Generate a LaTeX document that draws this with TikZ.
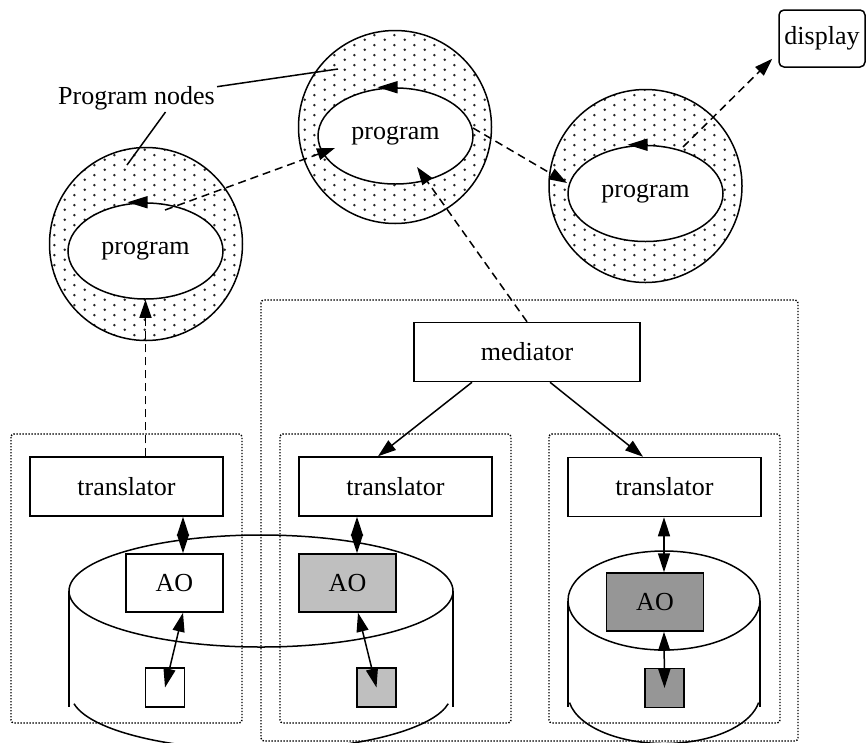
\documentclass[tikz,border=0pt]{standalone}
\usepackage{fontspec}
\setmainfont{Liberation Serif}
\usetikzlibrary{arrows.meta,shapes.geometric,patterns,calc}

\pgfdeclarepatternformonly{ringdots}{\pgfpointorigin}{\pgfpoint{20pt}{10pt}}{\pgfpoint{20pt}{10pt}}{%
  \pgfpathcircle{\pgfpoint{5pt}{2.5pt}}{1.5pt}%
  \pgfpathcircle{\pgfpoint{15pt}{7.5pt}}{1.5pt}%
  \pgfusepath{fill}}

\definecolor{aolight}{gray}{0.75}
\definecolor{aodark}{gray}{0.59}

\begin{document}
\begin{tikzpicture}[x=1pt,y=1pt,
  every node/.style={font=\fontsize{26}{31}\selectfont},
  ring/.style={draw,circle,line width=1.5pt,minimum size=193pt,pattern=ringdots,pattern color=black!85},
  core/.style={draw,ellipse,line width=1.5pt,fill=white,minimum width=155pt,minimum height=96pt,inner sep=0pt},
  unit/.style={draw,rectangle,line width=1.5pt,minimum width=193pt,minimum height=59pt},
  ao/.style={draw,rectangle,line width=1.5pt,minimum width=97pt,minimum height=58pt},
  cell/.style={draw,rectangle,line width=1.5pt,minimum size=39pt,inner sep=0pt},
  group/.style={line width=1.4pt,dash pattern=on 1.4pt off 1.6pt,rounded corners=3pt},
  flow/.style={line width=1.5pt,dash pattern=on 8pt off 5pt,-{Triangle[length=18pt,width=12pt]}},
  link/.style={line width=1.5pt,-{Triangle[length=18pt,width=12pt]}},
  both/.style={line width=1.5pt,{Triangle[length=19pt,width=12pt]}-{Triangle[length=19pt,width=12pt]}},
  tick/.style={line width=1.5pt,-{Triangle[length=20pt,width=12pt]}}]

\useasboundingbox (0,0) rectangle (866,-742);

\draw[group] (261,-300) rectangle (798,-741);
\draw[group] (11,-434) rectangle (242,-723);
\draw[group] (280,-434) rectangle (511,-723);
\draw[group] (549,-434) rectangle (780,-723);

\draw[line width=1.5pt] (261,-591) ellipse [x radius=192, y radius=56];
\draw[line width=1.5pt] (69,-591) -- (69,-707);
\draw[line width=1.5pt] (453,-591) -- (453,-707);
\draw[line width=1.5pt] (74,-703.7) arc [start angle=190, end angle=350, x radius=190, y radius=56];

\draw[line width=1.5pt] (664,-600.5) ellipse [x radius=96, y radius=49.5];
\draw[line width=1.5pt] (568,-600.5) -- (568,-707);
\draw[line width=1.5pt] (760,-600.5) -- (760,-707);
\draw[line width=1.5pt] (569.5,-702.6) arc [start angle=190, end angle=350, x radius=96, y radius=49.5];

\node[ring] (p1) at (146,-244) {};

\node[core] (p1in) at (145.5,-251) {program};

\node[ring] (p2) at (395,-127) {};

\node[core] (p2in) at (395.5,-136) {program};

\node[ring] (p3) at (645.5,-186) {};

\node[core] (p3in) at (645.5,-193.5) {program};

\node[draw,rounded corners=5pt,line width=1.5pt,minimum width=86pt,minimum height=57pt,inner sep=0pt] (disp) at (822,-38.5) {display};

\node[inner sep=2pt] (lbl) at (136.5,-98) {Program nodes};

\node[unit,minimum width=226pt] (med) at (527,-352) {mediator};

\node[unit] (t1) at (126.5,-486.5) {translator};

\node[unit] (t2) at (395.5,-486.5) {translator};

\node[unit] (t3) at (664.5,-487) {translator};

\node[ao,fill=white] (ao1) at (174.5,-583) {AO};

\node[ao,fill=aolight] (ao2) at (347.5,-583) {AO};

\node[ao,fill=aodark] (ao3) at (655,-602) {AO};

\node[cell,fill=white] (s1) at (165,-687.5) {};

\node[cell,fill=aolight] (s2) at (376.5,-687.5) {};

\node[cell,fill=aodark] (s3) at (664.5,-688) {};

\draw[tick] ([xshift=2pt]p1in.north) -- ([xshift=-18pt]p1in.north);
\draw[tick] ([xshift=2pt]p2in.north) -- ([xshift=-18pt]p2in.north);
\draw[tick] ([xshift=2pt]p3in.north) -- ([xshift=-18pt]p3in.north);

\draw[line width=1.5pt] (lbl.8) -- ($(p2)+(-57,58)$);
\draw[line width=1.5pt] ([xshift=29pt]lbl.south) -- ($(p1)+(-19,79)$);

\draw[flow] (p1in.south |- t1.north) -- (p1in.south);
\draw[flow] ($(p1in)+(19.5,41)$) -- ($(p2in)+(-60.5,-12)$);
\draw[flow] ($(p2in)+(77.5,8)$) -- ($(p3in)+(-78.5,10.5)$);
\draw[flow] ($(p3in)+(37.5,46.5)$) -- ($(disp.south west)+(-6,9)$);
\draw[flow] (med.north) -- ($(p2in)+(21.5,-31)$);

\draw[link] ([xshift=-55pt]med.south) -- ([xshift=-17.5pt]t2.north);
\draw[link] ([xshift=23pt]med.south) -- ([xshift=-21.5pt]t3.north);

\draw[both] ([xshift=8.5pt]ao1.north) -- ([xshift=8.5pt]ao1.north |- t1.south);
\draw[both] ([xshift=9.5pt]ao2.north) -- ([xshift=9.5pt]ao2.north |- t2.south);
\draw[both] ([xshift=9pt]ao3.north) -- ([xshift=9pt]ao3.north |- t3.south);

\draw[both] ([xshift=8.5pt]ao1.south) -- (s1.center);
\draw[both] ([xshift=10.5pt]ao2.south) -- (s2.center);
\draw[both] ([xshift=9pt]ao3.south) -- (s3.center);

\end{tikzpicture}
\end{document}
